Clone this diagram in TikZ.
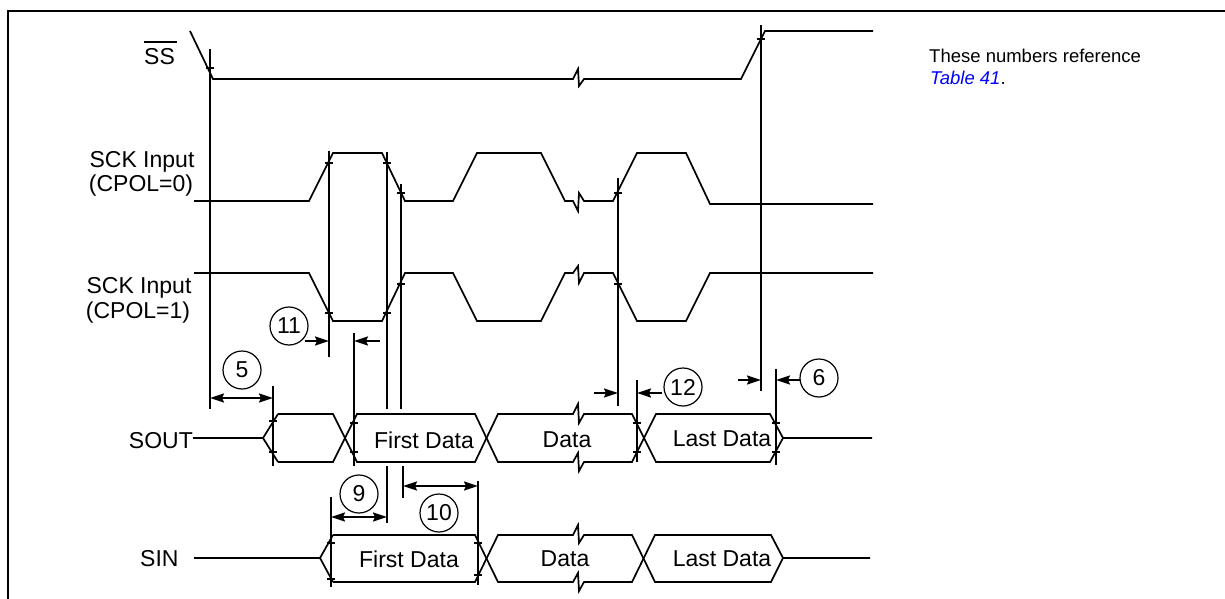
\documentclass[tikz,border=0pt]{standalone}
\usepackage{fontspec}
\setmainfont{Liberation Sans}
\usetikzlibrary{arrows.meta}
\tikzset{
  sig/.style={line width=1.7pt},
  vline/.style={line width=1.9pt},
  tickmark/.style={line width=1.6pt},
  frame/.style={line width=2.2pt},
  dimarr/.style={line width=1.7pt,-{Stealth[length=14pt,width=9pt,inset=2pt]}},
  dimboth/.style={line width=1.7pt,{Stealth[length=14pt,width=9pt,inset=2pt]}-{Stealth[length=14pt,width=9pt,inset=2pt]}},
  num/.style={circle,draw,line width=1.2pt,minimum size=38pt,inner sep=0pt,font=\fontsize{23}{23}\selectfont},
  lab/.style={inner sep=0pt,font=\fontsize{23}{26}\selectfont},
  note/.style={inner sep=0pt,font=\fontsize{18.5}{22}\selectfont}
}
\newcommand\tmark[2]{\draw[tickmark] (#1-4,#2) -- (#1+4,#2);}
\begin{document}
\begin{tikzpicture}[x=1pt,y=-1pt]
\useasboundingbox (0,0) rectangle (1225,599);
% frame
\draw[frame] (8,599) -- (8,11) -- (1225,11);

% labels
\node[lab,anchor=base west] (ss) at (144,65) {SS};
\draw[line width=1.5pt] (144,42) -- (177,42);
\node[lab,anchor=base] (sck0a) at (142,167) {SCK Input};
\node[lab,anchor=base] (sck0b) at (141,191) {(CPOL=0)};
\node[lab,anchor=base] (sck1a) at (139,293) {SCK Input};
\node[lab,anchor=base] (sck1b) at (138,318) {(CPOL=1)};
\node[lab,anchor=base east] (sout) at (193,448) {SOUT};
\node[lab,anchor=base west] (sin) at (140,566) {SIN};

\node[note,anchor=base west] (n1) at (929,63) {These numbers reference};
\node[note,anchor=base west] (n2) at (930,85) {\textcolor[rgb]{0,0,1}{\itshape Table 41}.};

% SS
\draw[sig] (190,31) -- (213,79) -- (573,79) -- (578,69) -- (579,86) -- (584,79) -- (741,79) -- (765,31) -- (873,31);
% SCK CPOL=0
\draw[sig] (194,201) -- (309,201) -- (333,153) -- (382,153) -- (405,201) -- (453,201) -- (477,153) -- (541,153) -- (565,201) -- (573,201) -- (578,211) -- (579,193) -- (584,201) -- (613,201) -- (637,153) -- (686,153) -- (710,204) -- (873,204);
% SCK CPOL=1
\draw[sig] (194,273) -- (309,273) -- (333,321) -- (382,321) -- (405,273) -- (453,273) -- (477,321) -- (541,321) -- (565,273) -- (573,273) -- (578,266) -- (579,283) -- (584,273) -- (613,273) -- (637,321) -- (686,321) -- (710,273) -- (873,273);

% SOUT
\draw[sig] (sout.base east) ++(0,-10) -- (263,438);
\draw[sig] (278,414) -- (263,438) -- (278,462);
\draw[sig] (278,414) -- (333,414) -- (357,462) -- (475,462) -- (498,414) -- (573,414) -- (578,404) -- (579,423) -- (584,414) -- (632,414) -- (656,462) -- (770,462) -- (783,438) -- (872,438);
\draw[sig] (278,462) -- (333,462) -- (357,414) -- (475,414) -- (498,462) -- (573,462) -- (578,453) -- (579,471) -- (584,462) -- (632,462) -- (656,414) -- (770,414) -- (783,438);
\node[lab,anchor=base] (sfd) at (424,448) {First Data};
\node[lab,anchor=base] (sd) at (567,447) {Data};
\node[lab,anchor=base] (sld) at (722,446) {Last Data};

% SIN
\draw[sig] (194,558) -- (320,558);
\draw[sig] (333,535) -- (320,558) -- (333,582);
\draw[sig] (333,535) -- (475,535) -- (498,582) -- (573,582) -- (578,573) -- (579,591) -- (584,582) -- (632,582) -- (655,535) -- (771,535) -- (783,558) -- (870,558);
\draw[sig] (333,582) -- (475,582) -- (498,535) -- (573,535) -- (578,525) -- (579,543) -- (584,535) -- (632,535) -- (655,582) -- (771,582) -- (783,558);
\node[lab,anchor=base] (ifd) at (409,567) {First Data};
\node[lab,anchor=base] (id) at (565,566) {Data};
\node[lab,anchor=base] (ild) at (722,566) {Last Data};

% vertical timing lines
\draw[vline] (210,49) -- (210,409);
\draw[vline] (761,25) -- (761,391);
\draw[vline] (329,151) -- (329,357);
\draw[vline] (387,152) -- (387,409);
\draw[vline] (387,466) -- (387,523);
\draw[vline] (401,184) -- (401,409);
\draw[vline] (403,466) -- (403,498);
\draw[vline] (618,178) -- (618,406);
\draw[vline] (354,333) -- (354,466);
\draw[vline] (273,386) -- (273,466);
\draw[vline] (637,380) -- (637,462);
\draw[vline] (776,369) -- (776,465);
\draw[vline] (331,497) -- (331,587);
\draw[vline] (478,481) -- (478,585);

% crossing ticks
\tmark{210}{68}
\tmark{761}{39}
\tmark{329}{163}
\tmark{329}{313}
\tmark{387}{163}
\tmark{387}{313}
\tmark{401}{193}
\tmark{401}{284}
\tmark{618}{193}
\tmark{618}{284}
\tmark{273}{421}
\tmark{273}{452}
\tmark{354}{423}
\tmark{354}{452}
\tmark{637}{423}
\tmark{637}{452}
\tmark{776}{423}
\tmark{776}{452}
\tmark{331}{543}
\tmark{331}{579}
\tmark{478}{543}
\tmark{478}{575}

% dimension arrows
\coordinate (a11l) at (305,341); \coordinate (a11le) at (329,341);
\coordinate (a11r) at (380,341); \coordinate (a11re) at (354,341);
\draw[dimarr] (a11l) -- (a11le);
\draw[dimarr] (a11r) -- (a11re);
\coordinate (a5l) at (210,398); \coordinate (a5r) at (273,398);
\draw[dimboth] (a5l) -- (a5r);
\coordinate (a12l) at (594,393); \coordinate (a12le) at (618,393);
\coordinate (a12r) at (662,393); \coordinate (a12re) at (637,393);
\draw[dimarr] (a12l) -- (a12le);
\draw[dimarr] (a12r) -- (a12re);
\coordinate (a6l) at (738,380); \coordinate (a6le) at (761,380);
\coordinate (a6r) at (800,380); \coordinate (a6re) at (776,380);
\draw[dimarr] (a6l) -- (a6le);
\draw[dimarr] (a6r) -- (a6re);
\coordinate (a9l) at (331,517); \coordinate (a9r) at (387,517);
\draw[dimboth] (a9l) -- (a9r);
\coordinate (a10l) at (403,486); \coordinate (a10r) at (478,486);
\draw[dimboth] (a10l) -- (a10r);

% circled numbers
\node[num] (c11) at (289,326) {11};
\node[num] (c5) at (242,370) {5};
\node[num] (c12) at (683,387) {12};
\node[num] (c6) at (819,378) {6};
\node[num] (c9) at (359,494) {9};
\node[num] (c10) at (439,513) {10};
\end{tikzpicture}
\end{document}
